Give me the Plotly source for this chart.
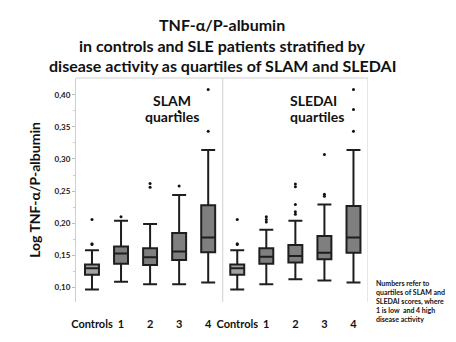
import plotly.graph_objects as go

# ---- data ----
categories = ["Controls", "1", "2", "3", "4", "Controls", "1", "2", "3", "4"]
positions = [0, 1, 2, 3, 4, 5, 6, 7, 8, 9]
lower_whisker = [0.097, 0.109, 0.105, 0.105, 0.108, 0.097, 0.105, 0.113, 0.111, 0.108]
q1 = [0.120, 0.137, 0.135, 0.143, 0.155, 0.120, 0.137, 0.139, 0.144, 0.154]
median = [0.130, 0.153, 0.147, 0.156, 0.178, 0.130, 0.148, 0.149, 0.154, 0.178]
q3 = [0.136, 0.164, 0.161, 0.185, 0.228, 0.136, 0.161, 0.166, 0.180, 0.227]
upper_whisker = [0.158, 0.204, 0.199, 0.244, 0.314, 0.158, 0.190, 0.204, 0.229, 0.314]
outliers = [
    [0.167, 0.168, 0.206],
    [0.210],
    [0.256, 0.262],
    [0.258, 0.374],
    [0.343, 0.408],
    [0.167, 0.168, 0.206],
    [0.202, 0.206, 0.210],
    [0.214, 0.218, 0.229, 0.257, 0.261],
    [0.242, 0.245, 0.307],
    [0.343, 0.377, 0.408],
]
ytick_vals = [0.10, 0.15, 0.20, 0.25, 0.30, 0.35, 0.40]
ytick_text = ["0,10", "0,15", "0,20", "0,25", "0,30", "0,35", "0,40"]

font_family = "Lato, 'Open Sans', sans-serif"

fig = go.Figure()

ctrl_idx = [0, 5]
pat_idx = [i for i in range(10) if i not in ctrl_idx]
for idx, fill in [(ctrl_idx, "#a3a3a3"), (pat_idx, "#7f7f7f")]:
    fig.add_trace(go.Box(
        x=[positions[i] for i in idx],
        q1=[q1[i] for i in idx],
        median=[median[i] for i in idx],
        q3=[q3[i] for i in idx],
        lowerfence=[lower_whisker[i] for i in idx],
        upperfence=[upper_whisker[i] for i in idx],
        boxpoints=False,
        fillcolor=fill,
        line=dict(color="#1e1e1e", width=2),
        width=0.48,
        whiskerwidth=1,
        showlegend=False,
        hoverinfo="skip",
    ))

ox, oy = [], []
for p, vals in zip(positions, outliers):
    for v in vals:
        ox.append(p)
        oy.append(v)
fig.add_trace(go.Scatter(x=ox, y=oy, mode="markers",
                         marker=dict(color="#111111", size=3),
                         showlegend=False, hoverinfo="skip"))

frame_color = "#cfcfcf"
shapes = [
    dict(type="line", xref="x", yref="paper", x0=4.5, x1=4.5, y0=0, y1=1,
         line=dict(color=frame_color, width=1)),
    dict(type="line", xref="x", yref="paper", x0=9.5, x1=9.5, y0=0, y1=1,
         line=dict(color=frame_color, width=1)),
    dict(type="line", xref="paper", yref="paper", x0=0, x1=1, y0=1, y1=1,
         line=dict(color=frame_color, width=1)),
]

# plot area is from x=76..368, y=78..307 (pixels)
def px_to_paper(xp, yp):
    return (xp - 76) / (368 - 76), (307 - yp) / (307 - 78)

title_lines = [
    ("<b>TNF-α/P-albumin</b>", 222, 23, 16),
    ("<b>in controls and SLE patients stratified by</b>", 222, 45, 16),
    ("<b>disease activity as quartiles of SLAM and SLEDAI</b>", 222, 65, 16),
]
fixed = []
for txt, xp, yp, sz in title_lines:
    xx, yy = px_to_paper(xp, yp)
    fixed.append(dict(text=txt, x=xx, y=yy, xref="paper", yref="paper",
                      xanchor="center", yanchor="middle", showarrow=False,
                      font=dict(size=sz, color="#111111", family=font_family)))

for txt, xp, yp in [("<b>SLAM</b>", 172, 101), ("<b>quartiles</b>", 172, 117),
                    ("<b>SLEDAI</b>", 313, 101), ("<b>quartiles</b>", 317, 117)]:
    xx, yy = px_to_paper(xp, yp)
    fixed.append(dict(text=txt, x=xx, y=yy, xref="paper", yref="paper",
                      xanchor="center", yanchor="middle", showarrow=False,
                      font=dict(size=14, color="#111111", family=font_family)))

note = ("<b>Numbers refer to<br>quartiles of SLAM and<br>SLEDAI scores, where<br>"
        "1 is low  and 4 high<br>disease activity</b>")
xx, yy = px_to_paper(374, 281)
fixed.append(dict(text=note, x=xx, y=yy, xref="paper", yref="paper",
                  xanchor="left", yanchor="top", align="left", showarrow=False,
                  font=dict(size=7, color="#111111", family=font_family)))

fig.update_layout(
    width=456, height=342,
    margin=dict(l=76, r=88, t=78, b=35),
    paper_bgcolor="white", plot_bgcolor="white",
    shapes=shapes, annotations=fixed,
    font=dict(family=font_family, color="#111111"),
    xaxis=dict(range=[-0.55, 9.5], tickvals=positions,
               ticktext=["<b>%s</b>" % c for c in categories],
               tickfont=dict(size=11, color="#111111"),
               showgrid=False, zeroline=False, showline=False, ticks="",
               ticklabelstandoff=14),
    yaxis=dict(range=[0.0775, 0.426], tickvals=ytick_vals, ticktext=["<b>%s</b>" % t for t in ytick_text],
               tickfont=dict(size=8, color="#222222"),
               showgrid=False, zeroline=False, showline=True, linecolor=frame_color, linewidth=1,
               ticks="outside", ticklen=3, tickcolor="#bbbbbb",
               minor=dict(tickvals=[0.125, 0.175, 0.225, 0.275, 0.325, 0.375], ticks="outside",
                          ticklen=2, tickcolor="#cccccc"),
               title=dict(text="<b>Log TNF-α/P-albumin</b>", font=dict(size=14, color="#111111"),
                          standoff=10)),
)

fig.write_html("out.html")
